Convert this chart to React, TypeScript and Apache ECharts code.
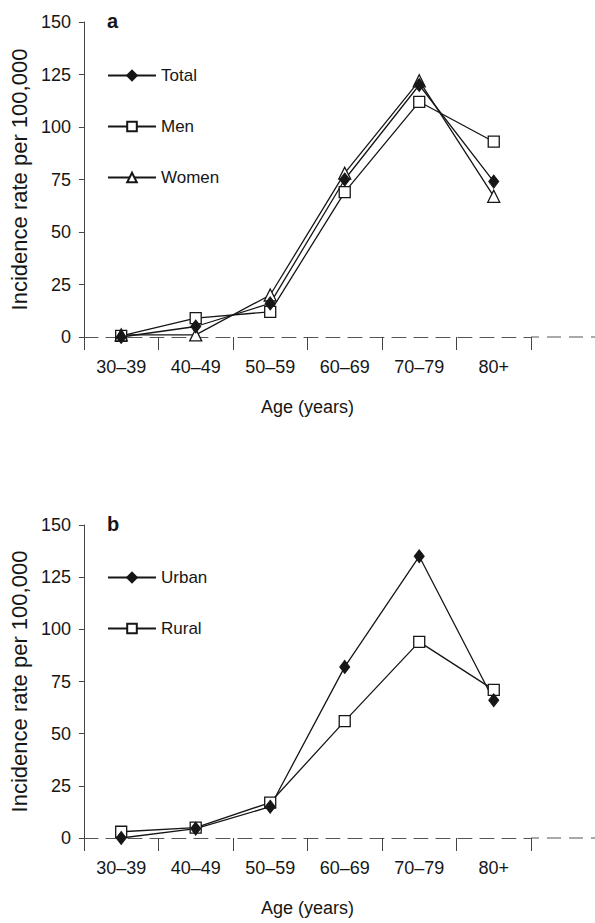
import React, { useEffect, useRef } from 'react';
import * as echarts from 'echarts';

// ---- data ----
const ageGroups = ['30\u201339', '40\u201349', '50\u201359', '60\u201369', '70\u201379', '80+'];
const totalRates = [0, 5, 16, 75, 120, 74];
const menRates = [0.5, 9, 12, 69, 112, 93];
const womenRates = [1, 1, 20, 78, 122, 67];
const urbanRates = [0, 4.5, 15, 82, 135, 66];
const ruralRates = [3, 5, 17, 56, 94, 71];
const yMin = 0;
const yMax = 150;
const yStep = 25;
const panelLabels = ['a', 'b'];
const yAxisName = 'Incidence rate per 100,000';
const xAxisName = 'Age (years)';

const FONT = "'Liberation Sans', Arial, sans-serif";
const INK = '#161616';
const AXIS = '#444';

// layout (pixels)
const GRID_LEFT = 79;
const GRID_WIDTH = 452;
const GRIDS = [
  { top: 22, height: 315 },
  { top: 525, height: 313 },
];

export default function App() {
  const ref = useRef<HTMLDivElement>(null);

  useEffect(() => {
    if (!ref.current) return;
    const chart = echarts.init(ref.current, undefined, { renderer: 'svg' });

    const makeX = (gridIndex: number) => ({
      type: 'category',
      gridIndex,
      data: ageGroups,
      boundaryGap: true,
      axisLine: { onZero: false, lineStyle: { color: '#555', width: 1, type: [14, 8] } },
      axisTick: { show: true, length: 13, inside: false, lineStyle: { color: AXIS, width: 1 } },
      axisLabel: { fontSize: 18, fontFamily: FONT, color: INK, margin: 21 },
      splitLine: { show: false },
      name: xAxisName,
      nameLocation: 'middle',
      nameGap: 61,
      nameTextStyle: { fontSize: 18, fontFamily: FONT, color: INK },
    });

    const makeY = (gridIndex: number) => ({
      type: 'value',
      gridIndex,
      min: yMin,
      max: yMax,
      interval: yStep,
      axisLine: { show: true, lineStyle: { color: AXIS, width: 1 } },
      axisTick: { show: true, length: 5, lineStyle: { color: AXIS, width: 1 } },
      axisLabel: { fontSize: 18, fontFamily: FONT, color: INK, margin: 13 },
      splitLine: { show: false },
      name: yAxisName,
      nameLocation: 'middle',
      nameGap: 45,
      nameTextStyle: { fontSize: 22, fontFamily: FONT, color: INK },
    });

    const line = { color: INK, width: 1.3 };
    const filled = { color: INK, borderColor: INK, borderWidth: 1 };
    const open = { color: '#fff', borderColor: INK, borderWidth: 1.3 };

    const mk = (name: string, data: number[], idx: number, symbol: string, size: number | number[], style: any) => ({
      name,
      type: 'line',
      xAxisIndex: idx,
      yAxisIndex: idx,
      data,
      symbol,
      symbolSize: size,
      showAllSymbol: true,
      lineStyle: line,
      itemStyle: style,
      emphasis: { disabled: true },
    });

    const legendBase = {
      orient: 'vertical',
      left: 107,
      itemWidth: 48,
      itemHeight: 12,
      itemGap: 34,
      padding: 0,
      selectedMode: false,
      textStyle: { fontSize: 17, fontFamily: FONT, color: INK },
    };

    // dashed zero line continues past the last category to the page edge
    const gridRight = GRID_LEFT + GRID_WIDTH;
    const extensions = GRIDS.map((g) => ({
      type: 'line',
      silent: true,
      shape: { x1: gridRight, y1: g.top + g.height, x2: 595, y2: g.top + g.height },
      style: { stroke: '#555', lineWidth: 1, lineDash: [14, 8], lineDashOffset: 6 },
    }));

    chart.setOption({
      animation: false,
      backgroundColor: '#fff',
      title: [
        { text: panelLabels[0], left: 107, top: 11, padding: 0, textStyle: { fontSize: 20, fontWeight: 'bold', fontFamily: FONT, color: INK } },
        { text: panelLabels[1], left: 107, top: 514, padding: 0, textStyle: { fontSize: 20, fontWeight: 'bold', fontFamily: FONT, color: INK } },
      ],
      legend: [
        { ...legendBase, top: 67, data: ['Total', 'Men', 'Women'] },
        { ...legendBase, top: 569, data: ['Urban', 'Rural'] },
      ],
      grid: GRIDS.map((g) => ({ left: GRID_LEFT, width: GRID_WIDTH, top: g.top, height: g.height })),
      xAxis: [makeX(0), makeX(1)],
      yAxis: [makeY(0), makeY(1)],
      graphic: extensions,
      series: [
        mk('Men', menRates, 0, 'rect', 11, open),
        mk('Women', womenRates, 0, 'triangle', 12, open),
        mk('Total', totalRates, 0, 'diamond', [10, 13], filled),
        mk('Rural', ruralRates, 1, 'rect', 11, open),
        mk('Urban', urbanRates, 1, 'diamond', [10, 13], filled),
      ],
    });

    return () => chart.dispose();
  }, []);

  return (
    <div
      ref={ref}
      style={{ position: 'fixed', left: 0, top: 0, width: 595, height: 923, background: '#fff' }}
    />
  );
}
